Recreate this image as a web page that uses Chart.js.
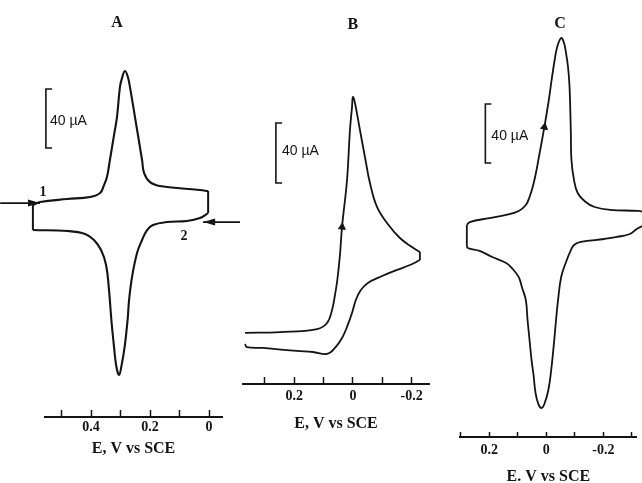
<!DOCTYPE html>
<html><head><meta charset="utf-8">
<script src="https://cdn.jsdelivr.net/npm/chart.js@4.4.0/dist/chart.umd.min.js"></script>
<style>
html,body{margin:0;padding:0;background:#fff;}
#wrap{position:relative;width:642px;height:483px;overflow:hidden;background:#fff;}
canvas{position:absolute;left:0;top:0;}
</style></head><body>
<div id="wrap">
<canvas id="cA" width="642" height="483"></canvas>
<canvas id="cB" width="642" height="483"></canvas>
<canvas id="cC" width="642" height="483"></canvas>
</div>
<script>
// ---------- DATA (E in V vs SCE, current in µA, cathodic up) ----------
const panelLetters = ['A', 'B', 'C'];
const axisTitles = ['E, V vs SCE', 'E, V vs SCE', 'E. V vs SCE'];
const scaleBarText = '40 µA';
const scanLabels = ['1', '2'];

// Panel A: forward (cathodic) sweep and return sweep
const forwardE_A = [0.597,0.573,0.481,0.403,0.369,0.356,0.346,0.336,0.322,0.312,0.302,0.295,0.285,0.275,0.268,0.251,0.227,0.220,0.200,0.166,0.108,0.031,0.003];
const forwardI_A = [4.7,6.8,8.8,10.2,12.9,18.3,23.7,35.3,52.2,64.4,84.7,90.8,95.6,91.5,84.7,64.4,35.3,26.4,20.3,17.6,16.3,14.9,14.2];
const returnE_A = [0.003,0.031,0.075,0.142,0.190,0.210,0.227,0.244,0.261,0.271,0.276,0.286,0.295,0.305,0.315,0.322,0.331,0.339,0.349,0.366,0.390,0.420,0.478,0.597];
const returnI_A = [-0.7,-4.1,-6.1,-6.8,-8.8,-12.2,-19.0,-27.8,-44.1,-59.7,-73.2,-91.5,-102.4,-110.5,-103.7,-91.5,-73.2,-52.9,-35.9,-25.8,-19.0,-14.9,-12.9,-12.2];

// Panel B
const forwardE_B = [0.367,0.248,0.122,0.088,0.071,0.061,0.053,0.044,0.037,0.020,0.010,0.003,0.000,-0.007,-0.024,-0.041,-0.058,-0.082,-0.116,-0.160,-0.201,-0.228];
const forwardI_B = [4.7,5.3,7.3,11.3,20.0,30.0,40.0,56.7,75.3,106.7,140.0,155.3,162.0,158.0,140.0,122.0,104.7,88.7,78.0,68.0,62.0,58.7];
const returnE_B = [-0.228,-0.194,-0.150,-0.092,-0.051,-0.027,-0.010,0.003,0.020,0.037,0.061,0.088,0.136,0.190,0.306,0.361,0.367];
const returnI_B = [53.3,50.0,46.7,42.0,38.0,33.3,26.7,18.0,8.7,1.3,-5.3,-9.3,-8.0,-7.3,-5.3,-4.7,-2.7];

// Panel C
const forwardE_C = [0.279,0.269,0.200,0.141,0.097,0.072,0.059,0.048,0.038,0.028,0.007,-0.007,-0.017,-0.028,-0.038,-0.052,-0.062,-0.069,-0.076,-0.081,-0.084,-0.086,-0.088,-0.097,-0.110,-0.138,-0.169,-0.224,-0.324,-0.352];
const forwardI_C = [3.4,5.4,8.1,10.2,12.9,16.9,22.4,29.2,37.3,47.5,69.8,86.1,99.7,113.9,124.1,130.2,126.8,120.0,110.5,98.3,81.4,64.4,47.5,33.9,25.1,19.0,15.6,13.6,12.9,11.5];
const returnE_C = [-0.352,-0.317,-0.293,-0.248,-0.203,-0.121,-0.097,-0.086,-0.069,-0.052,-0.041,-0.034,-0.026,-0.017,-0.007,0.007,0.017,0.028,0.038,0.045,0.052,0.059,0.066,0.072,0.086,0.097,0.121,0.141,0.190,0.234,0.276,0.279];
const returnI_C = [4.1,0.7,-2.7,-4.7,-6.1,-8.1,-10.2,-13.6,-21.7,-31.9,-47.5,-61.0,-78.0,-94.9,-108.5,-118.0,-120.7,-118.0,-110.5,-98.3,-88.1,-74.6,-61.0,-47.5,-38.6,-31.9,-25.8,-22.4,-18.3,-14.2,-12.2,-10.2];

// Tick values and labels
const ticksA = [0.5, 0.4, 0.3, 0.2, 0.1, 0];
const tickLabelsA = ['', '0.4', '', '0.2', '', '0'];
const ticksB = [0.3, 0.2, 0.1, 0, -0.1, -0.2];
const tickLabelsB = ['', '0.2', '', '0', '', '-0.2'];
const ticksC = [0.3, 0.2, 0.1, 0, -0.1, -0.2, -0.3];
const tickLabelsC = ['', '0.2', '', '0', '', '-0.2', ''];

// 40 µA scale bars: [bar potential, serif potential, top current, bottom current]
const scaleBarA = [0.553, 0.532, 83.4, 43.4];
const scaleBarB = [0.262, 0.241, 144.7, 104.7];
const scaleBarC = [0.214, 0.193, 85.4, 45.4];

// Scan-start arrows in A: [tail E, tip E, current]
const arrow1A = [0.708, 0.573, 6.1];
const arrow2A = [-0.105, 0.020, -6.8];
// Arrowheads on the curves: [E, current]
const arrowHeadB = [0.037, 75.3];
const arrowHeadC = [0.007, 69.8];

// ---------- helpers ----------
const INK = '#141414';
const zip = (xs, ys) => xs.map((x, i) => ({x: x, y: ys[i]}));

const notesPlugin = {
  id: 'notes',
  afterDatasetsDraw(chart, args, opts) {
    const ctx = chart.ctx, xs = chart.scales.x, ys = chart.scales.y;
    ctx.save();
    ctx.fillStyle = INK;
    (opts.heads || []).forEach(h => {
      const px = xs.getPixelForValue(h.x), py = ys.getPixelForValue(h.y);
      const d = h.dir === 'right' ? 1 : -1;
      ctx.beginPath();
      ctx.moveTo(px, py);
      ctx.lineTo(px - d * 12, py - 3.5);
      ctx.lineTo(px - d * 12, py + 3.5);
      ctx.closePath();
      ctx.fill();
    });
    (opts.items || []).forEach(it => {
      ctx.font = it.font;
      ctx.textAlign = it.align || 'center';
      ctx.textBaseline = 'middle';
      ctx.fillText(it.text, xs.getPixelForValue(it.x), ys.getPixelForValue(it.y));
    });
    ctx.restore();
  }
};

function branchDs(xs, ys, w) {
  return {data: zip(xs, ys), showLine: true, borderColor: INK, borderWidth: w, pointRadius: 0,
          tension: 0.4, clip: false};
}
// straight switching segment joining the end of one sweep to the start of the next
function joinDs(xa, ya, xb, yb, w) {
  return {data: [{x: xa[xa.length - 1], y: ya[ya.length - 1]}, {x: xb[0], y: yb[0]}],
          showLine: true, borderColor: INK, borderWidth: w, pointRadius: 0, tension: 0, clip: false};
}
function barDs(b) {
  return {data: [{x: b[1], y: b[2]}, {x: b[0], y: b[2]}, {x: b[0], y: b[3]}, {x: b[1], y: b[3]}],
          showLine: true, borderColor: INK, borderWidth: 1.6, pointRadius: 0, tension: 0, clip: false};
}
function arrowDs(a) {
  return {data: [{x: a[0], y: a[2]}, {x: a[1], y: a[2]}], showLine: true, borderColor: INK, borderWidth: 1.8,
          pointRadius: 0, tension: 0, clip: false};
}
function headDs(h, rot) {
  return {data: [{x: h[0], y: h[1]}], showLine: false, pointRadius: 4, pointStyle: 'triangle', pointRotation: rot,
          pointBackgroundColor: INK, pointBorderColor: INK, pointBorderWidth: 1, clip: false};
}

function makeChart(id, p) {
  return new Chart(document.getElementById(id), {
    type: 'scatter',
    data: {datasets: p.datasets},
    options: {
      responsive: false, animation: false, events: [],
      layout: {padding: {left: p.left, right: 642 - p.right, top: p.top, bottom: 0}},
      plugins: {legend: {display: false}, tooltip: {enabled: false}, notes: {items: p.notes, heads: p.heads || []}},
      scales: {
        x: {
          type: 'linear', reverse: true, min: p.xmin, max: p.xmax, position: 'bottom',
          afterFit: s => { s.height = 483 - p.axisY; },
          afterBuildTicks: s => { s.ticks = p.ticks.map(v => ({value: v})); },
          grid: {display: true, drawOnChartArea: false, drawTicks: true, tickLength: -p.tickLen,
                 tickColor: INK, tickWidth: 1.5, color: INK},
          border: {display: true, color: INK, width: 2},
          ticks: {callback: (v, i) => p.labels[i], autoSkip: false, maxRotation: 0, color: INK,
                  padding: p.tickPad, font: {family: 'Liberation Serif', size: 14, weight: 'bold'}},
          title: {display: true, text: p.title, color: INK, padding: {top: 0, bottom: p.titlePad},
                  font: {family: 'Liberation Serif', size: 16, weight: 'bold'}}
        },
        y: {type: 'linear', display: false, min: p.ymin, max: p.ymax}
      }
    },
    plugins: [notesPlugin]
  });
}

const letterFont = 'bold 16px "Liberation Serif"';
const barFont = '14px "Liberation Sans"';
const numFont = 'bold 14px "Liberation Serif"';

makeChart('cA', {
  left: 45, right: 222, top: 10, axisY: 417, xmin: -0.044, xmax: 0.556, ymin: -139.0, ymax: 137.0,
  ticks: ticksA, labels: tickLabelsA, tickLen: 7, tickPad: 9, title: axisTitles[0], titlePad: 25,
  datasets: [
    branchDs(forwardE_A, forwardI_A, 2.1), branchDs(returnE_A, returnI_A, 2.1),
    joinDs(forwardE_A, forwardI_A, returnE_A, returnI_A, 2), joinDs(returnE_A, returnI_A, forwardE_A, forwardI_A, 2),
    barDs(scaleBarA), arrowDs(arrow1A), arrowDs(arrow2A)
  ],
  heads: [
    {x: arrow1A[1], y: arrow1A[2], dir: 'right'},
    {x: arrow2A[1], y: arrow2A[2], dir: 'left'}
  ],
  notes: [
    {text: panelLetters[0], x: 0.312, y: 128.1, font: letterFont},
    {text: scaleBarText, x: 0.539, y: 61.7, font: barFont, align: 'left'},
    {text: scanLabels[0], x: 0.563, y: 13.6, font: numFont},
    {text: scanLabels[1], x: 0.085, y: -16.3, font: numFont}
  ]
});

makeChart('cB', {
  left: 243, right: 429, top: 10, axisY: 384, xmin: -0.259, xmax: 0.374, ymin: -29.33, ymax: 220.0,
  ticks: ticksB, labels: tickLabelsB, tickLen: 7, tickPad: 11, title: axisTitles[1], titlePad: 50,
  datasets: [
    branchDs(forwardE_B, forwardI_B, 1.8), branchDs(returnE_B, returnI_B, 1.8),
    joinDs(forwardE_B, forwardI_B, returnE_B, returnI_B, 1.8),
    barDs(scaleBarB), headDs(arrowHeadB, 5)
  ],
  notes: [
    {text: panelLetters[1], x: 0.0, y: 210.0, font: letterFont},
    {text: scaleBarText, x: 0.241, y: 126.0, font: barFont, align: 'left'}
  ]
});

makeChart('cC', {
  left: 460, right: 640, top: 10, axisY: 437, xmin: -0.317, xmax: 0.303, ymin: -140.34, ymax: 149.15,
  ticks: ticksC, labels: tickLabelsC, tickLen: 5, tickPad: 10, title: axisTitles[2], titlePad: -3,
  datasets: [
    branchDs(forwardE_C, forwardI_C, 1.8), branchDs(returnE_C, returnI_C, 1.8),
    joinDs(forwardE_C, forwardI_C, returnE_C, returnI_C, 1.8), joinDs(returnE_C, returnI_C, forwardE_C, forwardI_C, 1.8),
    barDs(scaleBarC), headDs(arrowHeadC, 10)
  ],
  notes: [
    {text: panelLetters[2], x: -0.048, y: 139.7, font: letterFont},
    {text: scaleBarText, x: 0.193, y: 63.7, font: barFont, align: 'left'}
  ]
});
</script>
</body></html>
